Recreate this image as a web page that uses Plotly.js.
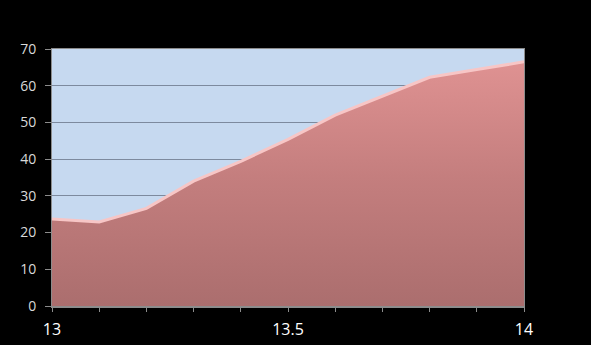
<!DOCTYPE html>
<html><head><meta charset="utf-8">
<script src="https://cdn.plot.ly/plotly-3.0.1.min.js"></script>
<style>html,body{margin:0;padding:0;background:#000;}</style>
</head><body><div id="chart" style="width:591px;height:345px;"></div>
<script>
const xValues = [13, 13.1, 13.2, 13.3, 13.4, 13.5, 13.6, 13.7, 13.8, 13.9, 14];
const yValues = [23.7, 22.9, 26.6, 34.0, 39.4, 45.4, 52.0, 57.1, 62.3, 64.4, 66.5];
const xTickVals = [13, 13.5, 14];
const xTickText = ['13', '13.5', '14'];

const trace = {
  x: xValues, y: yValues, type: 'scatter', mode: 'lines',
  fill: 'tozeroy',
  fillgradient: {type: 'vertical', start: 0, stop: 70,
    colorscale: [[0, '#ab6e6e'], [0.5, '#c47e7e'], [1, '#e29494']]},
  line: {color: '#f7c6c6', width: 3},
  hoverinfo: 'skip'
};
const layout = {
  width: 591, height: 345,
  paper_bgcolor: '#000', plot_bgcolor: '#c6d9f0',
  margin: {l: 52, r: 67, t: 49, b: 39},
  showlegend: false,
  font: {family: 'Open Sans, Liberation Sans, sans-serif', color: '#d9d9d9'},
  xaxis: {range: [13, 14], tickvals: xTickVals, ticktext: xTickText,
    showgrid: false, zeroline: false, showline: true, linecolor: '#8c8c8c', linewidth: 1.5,
    mirror: true,
    ticks: 'outside', ticklen: 4, tickcolor: '#8c8c8c', ticklabelstandoff: 4,
    minor: {dtick: 0.1, ticks: 'outside', ticklen: 4, tickcolor: '#8c8c8c', showgrid: false},
    tickfont: {size: 16, color: '#ffffff'}},
  yaxis: {range: [0, 70], dtick: 10, showgrid: true, gridcolor: '#7d8a9e', gridwidth: 1,
    zeroline: false, showline: true, linecolor: '#8c8c8c', linewidth: 1, mirror: true,
    ticks: 'outside', ticklen: 6, tickcolor: '#8c8c8c', ticklabelstandoff: 6,
    tickfont: {size: 14, color: '#d9d9d9'}}
};
Plotly.newPlot('chart', [trace], layout, {displayModeBar: false, staticPlot: true});
</script></body></html>
